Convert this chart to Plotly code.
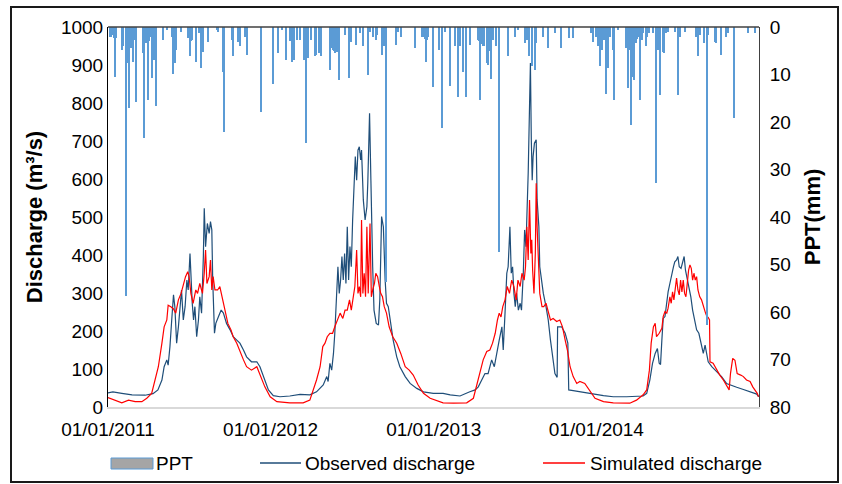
import pandas as pd
import plotly.graph_objects as go

START = pd.Timestamp("2011-01-01")

# ---- Observed discharge (day offset from 01/01/2011, m3/s) ----
obs_day = [0, 11, 31, 54, 83, 101, 112, 121, 126, 132, 135, 139, 143, 147, 150, 154, 158, 162, 165, 169,
           173, 177, 180, 184, 186, 189, 192, 195, 199, 203, 206, 210, 214, 216, 219, 223, 227, 230, 233, 235,
           239, 242, 248, 254, 259, 266, 274, 281, 289, 296, 304, 311, 322, 334, 341, 349, 360, 371,
           386, 408, 431, 453, 468, 483, 491, 494, 498, 502, 506, 509, 513, 516, 519, 522, 525, 528, 531, 534,
           537, 540, 543, 546, 549, 552, 555, 558, 561, 564, 567, 569, 573, 577, 581, 583, 585, 587, 590, 592,
           594, 597, 602, 607, 610, 614, 618, 622, 625, 629, 633, 640, 648, 655, 667, 678, 693, 708, 730,
           752, 768, 790, 812, 824, 831, 839, 846, 853, 861, 867, 872, 878, 884, 887, 891, 895, 898, 902, 905,
           908, 911, 914, 917, 921, 925, 928, 932, 935, 938, 941, 943, 946, 948, 950, 952, 954, 957, 961, 963,
           967, 969, 973, 977, 983, 988, 993, 998, 1003, 1008, 1009, 1018, 1026, 1032, 1034, 1044, 1067, 1089, 1112, 1134,
           1164, 1201, 1209, 1216, 1222, 1228, 1233, 1237, 1240, 1243, 1246, 1250, 1254, 1257, 1261, 1265, 1269, 1272, 1276, 1279,
           1282, 1286, 1290, 1293, 1296, 1299, 1303, 1308, 1312, 1317, 1321, 1326, 1329, 1332, 1336, 1340, 1344, 1347, 1355, 1366,
           1377, 1388, 1396, 1411, 1426, 1441, 1456, 1460]
obs_q = [37, 40, 36, 32, 31, 35, 45, 71, 106, 124, 110, 159, 229, 295, 264, 168, 211, 264, 308, 229,
         264, 334, 308, 404, 334, 274, 229, 264, 185, 229, 290, 247, 396, 523, 422, 483, 457, 488, 466, 334,
         194, 220, 238, 255, 247, 220, 203, 185, 176, 168, 150, 132, 119, 119, 106, 80, 45, 30,
         27, 29, 33, 32, 40, 58, 80, 67, 115, 97, 141, 194, 290, 369, 299, 334, 396, 334, 404, 325,
         474, 334, 422, 369, 492, 571, 659, 597, 676, 685, 650, 676, 545, 492, 527, 589, 720, 773, 597, 422,
         369, 255, 220, 216, 282, 501, 474, 334, 273, 264, 229, 176, 132, 106, 80, 62, 49, 40, 36,
         36, 32, 29, 40, 45, 53, 71, 88, 88, 124, 106, 141, 176, 211, 150, 247, 352, 369, 474, 352,
         369, 299, 264, 299, 255, 273, 255, 352, 466, 422, 510, 615, 790, 905, 703, 597, 659, 694, 703, 545,
         474, 369, 334, 299, 264, 229, 176, 124, 88, 78, 211, 211, 194, 168, 45, 43, 38, 34, 30, 27,
         27, 29, 36, 71, 115, 141, 154, 115, 112, 176, 233, 238, 277, 303, 325, 352, 369, 382, 387, 396,
         369, 365, 382, 396, 360, 343, 325, 290, 255, 229, 203, 194, 176, 159, 141, 163, 132, 119, 106, 93,
         80, 62, 58, 52, 46, 40, 34, 27]

# ---- Simulated discharge ----
sim_day = [0, 16, 31, 46, 61, 76, 87, 98, 105, 113, 121, 126, 132, 135, 141, 147, 152, 158, 164, 169,
           174, 179, 182, 186, 191, 197, 201, 206, 212, 216, 219, 222, 227, 230, 233, 236, 240, 246, 251, 256,
           263, 269, 276, 281, 289, 296, 304, 311, 322, 334, 341, 352, 364, 375,
           379, 408, 438, 453, 461, 468, 476, 482, 487, 492, 498, 504, 509, 515, 521, 527, 532, 537, 542, 546,
           551, 554, 558, 561, 564, 567, 569, 572, 575, 578, 581, 584, 588, 591, 594, 598, 601, 605, 609, 612,
           616, 620, 625, 631, 639, 648, 657, 667, 676, 685, 696, 708, 723, 738,
           752, 775, 805, 820, 827, 835, 842, 850, 857, 863, 869, 874, 878, 882, 886, 891, 896, 901, 906, 911,
           916, 920, 925, 929, 934, 937, 940, 943, 946, 949, 951, 953, 956, 959, 961, 963, 967, 969, 974, 978,
           983, 988, 993, 999, 1007, 1014, 1020, 1026, 1031, 1037, 1044, 1052, 1059, 1070, 1082, 1093, 1112, 1134,
           1171, 1186, 1201, 1209, 1215, 1219, 1224, 1228, 1231, 1237, 1243, 1246, 1250, 1254, 1257, 1261, 1264, 1267, 1270, 1273,
           1276, 1279, 1282, 1285, 1288, 1291, 1294, 1297, 1300, 1303, 1306, 1309, 1312, 1315, 1318, 1321, 1324, 1328, 1332, 1336,
           1340, 1344, 1347, 1350, 1351, 1358, 1366, 1373, 1381, 1388, 1394, 1397, 1402, 1407, 1412, 1420, 1426, 1433, 1441, 1447,
           1452, 1457, 1460]
sim_q = [25, 17, 11, 18, 14, 14, 23, 36, 71, 106, 168, 211, 229, 268, 264, 258, 247, 282, 299, 325,
         343, 356, 343, 299, 273, 308, 299, 325, 299, 352, 413, 325, 343, 387, 308, 343, 308, 308, 317, 290,
         247, 220, 203, 185, 168, 146, 124, 106, 97, 106, 84, 53, 27, 18,
         14, 11, 11, 18, 45, 71, 106, 159, 168, 185, 194, 194, 211, 229, 247, 233, 255, 255, 282, 255,
         299, 317, 413, 299, 317, 290, 492, 299, 352, 290, 474, 299, 483, 290, 308, 325, 352, 343, 317, 299,
         290, 264, 247, 211, 185, 168, 141, 106, 97, 84, 58, 36, 23, 17,
         11, 10, 11, 23, 53, 88, 124, 146, 150, 168, 194, 229, 247, 237, 264, 282, 317, 299, 334, 317,
         282, 334, 317, 352, 334, 369, 474, 387, 545, 404, 440, 360, 299, 404, 589, 474, 352, 299, 264, 264,
         273, 247, 229, 233, 225, 229, 211, 176, 150, 106, 80, 62, 67, 62, 40, 23, 14, 11,
         10, 18, 32, 45, 97, 168, 211, 220, 185, 194, 207, 238, 251, 247, 260, 290, 273, 303, 282, 321,
         339, 308, 295, 334, 303, 334, 299, 290, 325, 360, 374, 365, 334, 352, 334, 343, 308, 290, 282, 264,
         251, 238, 236, 229, 119, 115, 97, 84, 71, 58, 45, 88, 128, 123, 88, 84, 80, 71, 67, 53,
         45, 36, 27]

# ---- Precipitation (mm) ----
ppt_day = [5, 8, 10, 12, 14, 16, 19, 31, 34, 40, 44, 47, 50, 53, 57, 61, 64, 78, 81, 85,
           88, 90, 93, 96, 100, 104, 108, 123, 132, 143, 147, 151, 154, 164, 180, 184, 187, 190, 199, 205,
           209, 213, 225, 244, 248, 259, 260, 279, 281, 292, 296, 309, 313, 343, 370, 381, 390, 400, 410, 414,
           417, 419, 425, 432, 440, 442, 445, 450, 457, 465, 468, 474, 479, 498, 500, 502, 504, 506, 508, 510,
           512, 514, 518, 533, 542, 545, 556, 566, 572, 583, 588, 595, 601, 605, 616, 620, 625, 646, 652, 659,
           689, 706, 709, 711, 714, 717, 719, 729, 744, 750, 757, 768, 779, 786, 790, 797, 803, 812, 831, 833,
           836, 839, 842, 845, 850, 854, 857, 860, 865, 872, 878, 898, 913, 921, 936, 940, 945, 952, 958, 962,
           977, 989, 1003, 1018, 1035, 1043, 1085, 1089, 1095, 1100, 1104, 1109, 1114, 1119, 1123, 1127, 1133, 1136, 1145, 1164,
           1166, 1168, 1170, 1171, 1172, 1174, 1176, 1177, 1179, 1180, 1182, 1185, 1187, 1189, 1194, 1198, 1201, 1207, 1210, 1215,
           1224, 1230, 1235, 1239, 1245, 1248, 1252, 1257, 1272, 1280, 1284, 1295, 1321, 1325, 1330, 1338, 1344, 1347, 1362, 1366,
           1376, 1388, 1392, 1405, 1437, 1452]
ppt_mm = [2.2, 2.0, 1.5, 1.7, 2.4, 10.5, 2.4, 4.8, 4.1, 56.6, 7.6, 17.1, 3.0, 4.5, 7.3, 2.7, 15.7, 5.5, 23.4, 3.4,
          2.0, 15.4, 3.0, 2.0, 10.8, 6.9, 16.6, 2.7, 0.6, 2.0, 9.8, 7.6, 4.8, 1.0, 2.4, 6.2, 3.0, 2.7, 7.3, 1.3,
          8.7, 5.2, 3.1, 0.6, 1.0, 9.4, 22.0, 2.7, 6.2, 3.1, 4.1, 2.0, 5.9, 17.8, 11.9, 5.5, 0.6, 7.0, 3.0, 7.3,
          3.0, 6.9, 2.7, 2.7, 6.9, 5.5, 24.5, 6.5, 2.7, 6.2, 5.9, 5.5, 6.2, 9.1, 4.5, 4.1, 4.5, 4.8, 5.0, 5.5,
          5.0, 5.2, 11.2, 1.7, 10.8, 3.1, 3.8, 1.3, 4.1, 10.1, 1.0, 2.0, 2.7, 1.7, 5.9, 4.1, 53.7, 3.8, 1.0, 2.0,
          4.5, 2.0, 2.0, 2.5, 7.3, 2.7, 2.0, 12.7, 4.8, 21.2, 1.0, 12.4, 4.1, 14.7, 4.1, 9.4, 14.7, 3.8, 2.7, 3.0,
          15.4, 3.5, 4.1, 4.0, 7.6, 8.0, 5.0, 10.9, 2.7, 4.1, 47.4, 6.2, 2.0, 0.6, 3.4, 2.7, 6.2, 8.2, 9.1, 3.4,
          2.0, 4.5, 1.3, 4.5, 2.4, 2.4, 1.3, 3.1, 2.0, 4.1, 8.2, 4.8, 2.7, 14.0, 8.7, 2.0, 4.8, 15.4, 0.6, 4.5,
          3.5, 12.9, 4.0, 4.8, 3.8, 20.6, 4.0, 10.5, 3.5, 11.2, 3.0, 3.4, 2.5, 2.0, 15.4, 2.7, 1.3, 4.1, 2.0, 1.3,
          1.3, 32.9, 4.8, 14.3, 5.2, 5.5, 1.3, 1.0, 1.0, 14.3, 2.0, 1.0, 2.0, 6.2, 1.7, 3.4, 62.7, 1.7, 3.1, 3.4,
          5.9, 2.0, 1.3, 19.2, 1.3, 1.3]

tick_dates = ["2011-01-01", "2012-01-01", "2013-01-01", "2014-01-01"]
tick_text = ["01/01/2011", "01/01/2012", "01/01/2013", "01/01/2014"]

assert len(obs_day) == len(obs_q)
assert len(sim_day) == len(sim_q)
assert len(ppt_day) == len(ppt_mm)


def to_dates(days):
    return [START + pd.Timedelta(days=d) for d in days]


FONT = "Liberation Sans, Arial, sans-serif"
OBS_C = "#1F4E79"
SIM_C = "#FF0000"
PPT_C = "#5B9BD5"

fig = go.Figure()
fig.add_trace(go.Scatter(x=to_dates(obs_day), y=obs_q, mode="lines", name="Observed discharge",
                         line=dict(color=OBS_C, width=1.2), showlegend=False))
fig.add_trace(go.Scatter(x=to_dates(sim_day), y=sim_q, mode="lines", name="Simulated discharge",
                         line=dict(color=SIM_C, width=1.2), showlegend=False))
fig.add_trace(go.Bar(x=to_dates(ppt_day), y=ppt_mm, name="PPT", yaxis="y2",
                     marker=dict(color=PPT_C, line=dict(width=0)),
                     width=3.2 * 86400000, showlegend=False))

L, R, T, B = 108, 83, 27, 77
W, H = 842, 484
pw, ph = W - L - R, H - T - B


def px(xp):
    return (xp - L) / pw


def py(yp):
    return (H - B - yp) / ph


shapes = [
    # top baseline of PPT axis
    dict(type="line", xref="paper", yref="paper", x0=0, x1=1, y0=1, y1=1,
         line=dict(color="#404040", width=1.5)),
    # outer frame
    dict(type="rect", xref="paper", yref="paper", x0=px(11), x1=px(838), y0=py(482), y1=py(7),
         line=dict(color="#1a1a1a", width=2)),
    # legend swatches
    dict(type="rect", xref="paper", yref="paper", x0=px(111), x1=px(153), y0=py(469), y1=py(458),
         fillcolor="#A5A5A5", line=dict(color=PPT_C, width=1)),
    dict(type="line", xref="paper", yref="paper", x0=px(260), x1=px(301), y0=py(463), y1=py(463),
         line=dict(color=OBS_C, width=1.3)),
    dict(type="line", xref="paper", yref="paper", x0=px(543), x1=px(585), y0=py(463), y1=py(463),
         line=dict(color=SIM_C, width=1.3)),
]

annotations = [
    dict(text="PPT", x=px(154), y=py(463), xref="paper", yref="paper", xanchor="left", yanchor="middle",
         showarrow=False, font=dict(family=FONT, size=19, color="black")),
    dict(text="Observed discharge", x=px(303), y=py(463), xref="paper", yref="paper", xanchor="left",
         yanchor="middle", showarrow=False, font=dict(family=FONT, size=19, color="black")),
    dict(text="Simulated discharge", x=px(588), y=py(463), xref="paper", yref="paper", xanchor="left",
         yanchor="middle", showarrow=False, font=dict(family=FONT, size=19, color="black")),
]

fig.update_layout(
    width=W, height=H,
    margin=dict(l=L, r=R, t=T, b=B, autoexpand=False),
    paper_bgcolor="white", plot_bgcolor="white",
    font=dict(family=FONT, size=19, color="black"),
    shapes=shapes, annotations=annotations,
    bargap=0,
    xaxis=dict(type="date", range=[START, START + pd.Timedelta(days=1461)],
               tickvals=tick_dates, ticktext=tick_text, showgrid=False, zeroline=False,
               showline=True, linecolor="#D9D9D9", linewidth=1.5, ticks="",
               ticklabelstandoff=4,
               tickfont=dict(family=FONT, size=19, color="black")),
    yaxis=dict(range=[0, 1000], dtick=100, showgrid=False, zeroline=False,
               showline=True, linecolor="#000000", linewidth=1, ticks="",
               tickfont=dict(family=FONT, size=19, color="black"),
               title=dict(text="<b>Discharge (m³/s)</b>", font=dict(family=FONT, size=22, color="black"),
                          standoff=12)),
    yaxis2=dict(range=[80, 0], dtick=10, overlaying="y", side="right", showgrid=False, zeroline=False,
                showline=True, linecolor="#404040", linewidth=1, ticks="",
                ticklabelstandoff=6,
                tickfont=dict(family=FONT, size=19, color="black"),
                title=dict(text="<b>PPT(mm)</b>", font=dict(family=FONT, size=22, color="black"),
                           standoff=14)),
)

fig.write_html("out.html", config={"displayModeBar": False},
               post_script="document.body.style.margin='0';document.body.style.overflow='hidden';")
